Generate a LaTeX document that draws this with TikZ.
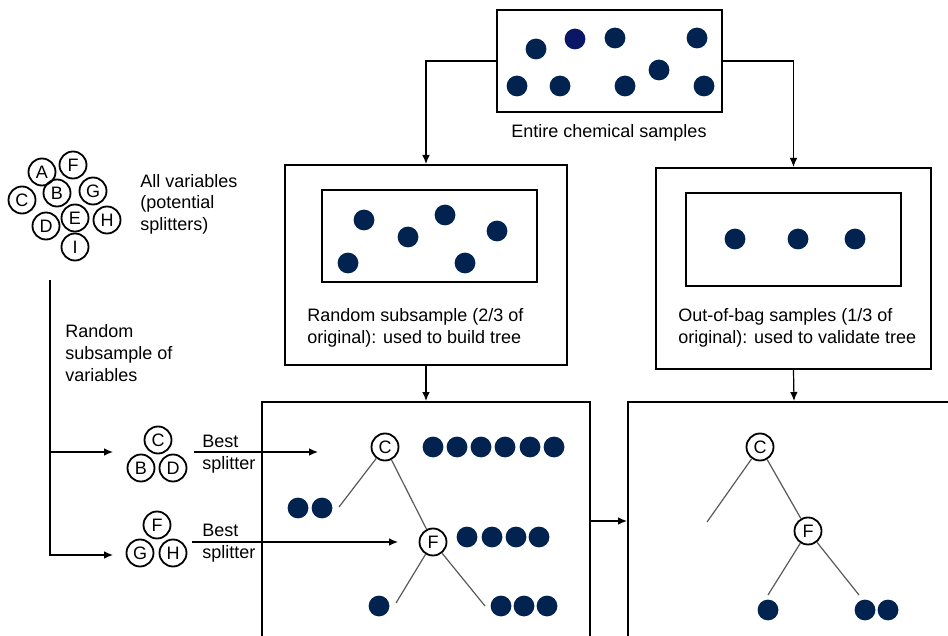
\documentclass[tikz,border=0pt]{standalone}
\usepackage{fontspec}
\setmainfont{Liberation Sans}
\usetikzlibrary{arrows.meta}
\definecolor{dotblue}{HTML}{02224F}
\definecolor{dotnavy}{HTML}{0A1766}

\begin{document}
\begin{tikzpicture}[x=0.5pt, y=-0.5pt, every node/.style={font=\fontsize{9}{10.8}\selectfont}]
\tikzset{
  box/.style={draw, line width=1pt, inner sep=0pt},
  dot/.style={circle, fill=dotblue, minimum size=10.4pt, inner sep=0pt},
  var/.style={circle, draw, line width=0.9pt, minimum size=13.5pt, inner sep=0pt},
  txt/.style={inner sep=0pt, align=left, anchor=west},
  arr/.style={line width=0.6pt, -{Latex[length=4.5pt,width=3.8pt]}},
  branch/.style={draw=black!65, line width=0.6pt}
}
\useasboundingbox (0,0) rectangle (948,636);
\clip (0,0) rectangle (948,636);

% --- all samples ---
\node[box, minimum width=112.5pt, minimum height=51pt] (all) at (609.5,61) {};
\foreach \x/\y [count=\i] in {536/49, 615/38, 697/38, 517/86, 560/86, 625/86, 659/70, 704/86}
  \node[dot] (s\i) at (\x,\y) {};
\node[dot, fill=dotnavy] (s0) at (575,39) {};
\node[txt, anchor=center] (alllab) at (609,133) {Entire chemical samples};

% --- in-bag subsample ---
\node[box, minimum width=141pt, minimum height=100pt] (train) at (426,265) {};
\node[box, minimum width=107.5pt, minimum height=46pt] (trainin) at (429.5,236) {};
\foreach \x/\y [count=\i] in {364/220, 408/237, 445/215, 497/231, 348/263, 465/263}
  \node[dot] (t\i) at (\x,\y) {};
\node[txt] (trainlab) at (307,328) {Random subsample (2/3 of\\original): used to build tree};

% --- out-of-bag subsample ---
\node[box, minimum width=137.5pt, minimum height=100.5pt] (oob) at (793.5,268.5) {};
\node[box, minimum width=107.5pt, minimum height=46.5pt] (oobin) at (793.5,239.5) {};
\foreach \x [count=\i] in {735, 798, 855}
  \node[dot] (o\i) at (\x,239) {};
\node[txt] (ooblab) at (678,328) {Out-of-bag samples (1/3 of\\original): used to validate tree};

\draw[arr] (all.west) -| (train.north);
\draw[arr] (all.east) -| (oob.north);

% --- tree boxes ---
\node[box, minimum width=164pt, minimum height=119pt] (build) at (426,521) {};
\node[box, minimum width=166pt, minimum height=119pt] (valid) at (794,521) {};
\draw[arr] (train.south) -- (build.north);
\draw[arr] (oob.south) -- (valid.north);
\draw[arr] (build.east) -- (valid.west);

% --- variables ---
\foreach \n/\x/\y in {A/42/172, F/73/165, C/22/200, B/57/193, G/93/191, D/46/226, E/75/218, H/107/220, I/75/247}
  \node[var] (v\n) at (\x,\y) {\n};
\node[txt] (alltxt) at (140,204) {All variables\\(potential\\splitters)};

\coordinate (vtop) at (50,280);
\node[txt] (subtxt) at (65,353) {Random\\subsample of\\variables};
\coordinate (in1) at (113,452);
\coordinate (in2) at (113,555);
\draw[arr] (vtop) |- (in2);
\draw[arr] (vtop |- in1) -- (in1);

\node[var] (c1) at (158,440) {C};
\node[var] (b1) at (141,468) {B};
\node[var] (d1) at (173,468) {D};
\node[var] (f2) at (157,525) {F};
\node[var] (g2) at (140,553) {G};
\node[var] (h2) at (173,553) {H};

\node[txt, font=\fontsize{9}{11}\selectfont] (best1) at (202,454) {Best\\splitter};
\node[txt, font=\fontsize{9}{11}\selectfont] (best2) at (202,543) {Best\\splitter};
\coordinate (bs1) at (194,452);
\coordinate (bs2) at (192,542);
\coordinate (tip1) at (318,452);
\coordinate (tip2) at (398,542);
\draw[arr] (bs1) -- (tip1);
\draw[arr] (bs2) -- (tip2);

% --- tree grown on the subsample ---
\node[var] (tc) at (385,447) {C};
\node[var] (tf) at (433,542) {F};
\foreach \x [count=\i] in {433, 457, 481, 505, 530, 554}
  \node[dot] (rc\i) at (\x,447) {};
\foreach \x [count=\i] in {298, 322}
  \node[dot] (lc\i) at (\x,508) {};
\foreach \x [count=\i] in {467, 492, 516, 539}
  \node[dot] (rf\i) at (\x,537) {};
\node[dot] (lf1) at (379,606) {};
\foreach \x [count=\i] in {501, 524, 547}
  \node[dot] (bf\i) at (\x,606) {};
\coordinate (tcl) at (339,507);
\coordinate (tfl) at (396,603);
\coordinate (tfr) at (485,606);
\draw[branch] (tc) -- (tcl);
\draw[branch] (tc) -- (tf);
\draw[branch] (tf) -- (tfl);
\draw[branch] (tf) -- (tfr);

% --- same tree on out-of-bag samples ---
\node[var] (oc) at (760,447) {C};
\node[var] (of) at (808,531) {F};
\node[dot] (ol1) at (768,610) {};
\foreach \x [count=\i] in {865, 888}
  \node[dot] (or\i) at (\x,610) {};
\coordinate (ocl) at (707,522);
\coordinate (ofl) at (768,595);
\coordinate (ofr) at (859,595);
\draw[branch] (oc) -- (ocl);
\draw[branch] (oc) -- (of);
\draw[branch] (of) -- (ofl);
\draw[branch] (of) -- (ofr);
\end{tikzpicture}
\end{document}
